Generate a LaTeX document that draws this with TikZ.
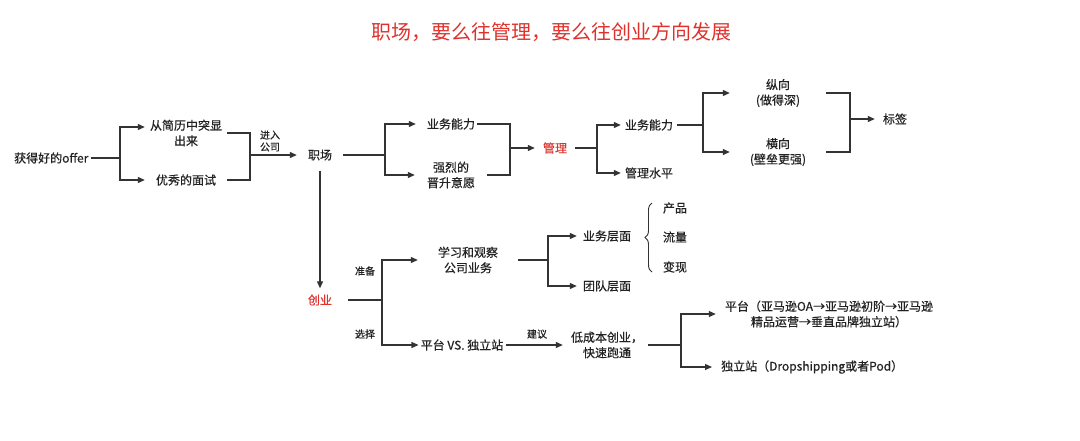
\documentclass[tikz,border=0pt]{standalone}
\usepackage{fontspec}
\setmainfont{Noto Sans CJK SC}
\newfontfamily\bodyfont{Noto Sans CJK SC}[FakeBold=0.5]
\usetikzlibrary{arrows.meta,decorations.pathreplacing}
\definecolor{lnc}{HTML}{333333}
\definecolor{txc}{HTML}{222222}
\definecolor{rdc}{HTML}{E0322D}
\begin{document}
\begin{tikzpicture}[x=1pt,y=-1pt,
  t/.style={font=\bodyfont\fontsize{12}{15.5}\selectfont, text=txc, inner ysep=1pt, inner xsep=5pt, align=center},
  lab/.style={font=\bodyfont\fontsize{10}{12}\selectfont, text=txc, inner sep=0pt, align=center},
  hl/.style={text=rdc},
  ln/.style={draw=lnc, line width=1.2pt},
  arr/.style={ln, -{Triangle[length=7pt,width=6pt]}},
]
\useasboundingbox (0,0) rectangle (1080,440);
\fill[white] (0,0) rectangle (1080,440);

% title
\node[font=\fontsize{20}{24}\selectfont, text=rdc] (title) at (551,32) {职场，要么往管理，要么往创业方向发展};

% nodes
\node[t, anchor=west, inner xsep=2pt] (offer) at (12,158) {获得好的offer};
\node[t] (resume) at (186,133) {从简历中突显\\出来};
\node[t, inner xsep=11pt] (interview) at (186,180) {优秀的面试};
\node[lab] (join) at (270,141) {进入\\公司};
\node[t, inner xsep=11pt] (zc) at (320,155) {职场};
\node[t, inner xsep=2pt] (yw1) at (451,124) {业务能力};
\node[t, inner xsep=12pt] (qs) at (451,175) {强烈的\\晋升意愿};
\node[t, hl, inner xsep=8pt] (gl) at (555,148) {管理};
\node[t, inner xsep=4pt] (yw2) at (649,125) {业务能力};
\node[t, inner xsep=4pt] (glsp) at (649,173) {管理水平};
\node[t, minimum width=96pt, inner xsep=0pt] (zx) at (778,93) {纵向\\(做得深)};
\node[t, minimum width=96pt, inner xsep=0pt] (hx) at (778,152) {横向\\(壁垒更强)};
\node[t, inner xsep=8pt] (bq) at (895,119) {标签};
\node[t, hl, inner xsep=16pt, inner ysep=6pt] (cy) at (320,300) {创业};
\node[lab] (zb) at (365,271) {准备};
\node[lab] (xz) at (365,334) {选择};
\node[t, inner xsep=20pt] (xx) at (468,260) {学习和观察\\公司业务};
\node[t, inner xsep=6pt] (ywcm) at (607,236) {业务层面};
\node[t, inner xsep=6pt] (tdcm) at (607,286) {团队层面};
\node[t] (cp) at (675,208) {产品};
\node[t] (ll) at (675,237) {流量};
\node[t] (bx) at (675,267) {变现};
\node[t, inner xsep=2pt] (pt) at (462,345) {平台 VS. 独立站};
\node[lab] (jy) at (537,334) {建议};
\node[t] (dcb) at (607,345) {低成本创业，\\快速跑通};
\node[t, inner xsep=9pt] (ptx) at (829,314) {平台（亚马逊OA→亚马逊初阶→亚马逊\\精品运营→垂直品牌独立站）};
\node[t, anchor=west, inner xsep=9pt] (dlz) at (712,367) {独立站（Dropshipping或者Pod）};

% brace
\draw[draw=lnc, line width=0.9pt, decorate, decoration={brace, amplitude=7pt}] (652,272) -- (652,203);

% connectors
\coordinate (j1) at (120,158);
\draw[ln] (offer.east) -- (j1);
\draw[arr] (j1) |- ([yshift=6pt]resume.west);
\draw[arr] (j1) |- (interview.west);

\coordinate (j2) at (250,155);
\draw[ln] (resume.east) -| (j2);
\draw[ln] (interview.east) -| (j2);
\draw[arr] (j2) -- (zc.west);

\coordinate (j3) at (385,155);
\draw[ln] (zc.east) -- (j3);
\draw[arr, shorten >=9pt] (j3) |- (yw1.west);
\draw[arr] (j3) |- (qs.west);

\coordinate (j4) at (510,148);
\draw[ln] (yw1.east) -| (j4);
\draw[ln] (qs.east) -| (j4);
\draw[arr] (j4) -- (gl.west);

\coordinate (j5) at (597,148);
\draw[ln] (gl.east) -- (j5);
\draw[arr] (j5) |- (yw2.west);
\draw[arr] (j5) |- (glsp.west);

\coordinate (j6) at (703,125);
\draw[ln] (yw2.east) -- (j6);
\draw[arr] (j6) |- (zx.west);
\draw[arr] (j6) |- (hx.west);

\coordinate (j7) at (850,119);
\draw[ln] (zx.east) -| (j7);
\draw[ln] (hx.east) -| (j7);
\draw[arr] (j7) -- (bq.west);

\draw[arr, shorten <=9pt] (zc.south) -- (cy.north);

\coordinate (j8) at (382,300);
\draw[ln] (cy.east) -- (j8);
\draw[arr] (j8) |- (xx.west);
\draw[arr] (j8) |- (pt.west);

\coordinate (j9) at (548,260);
\draw[ln] (xx.east) -- (j9);
\draw[arr] (j9) |- (ywcm.west);
\draw[arr] (j9) |- (tdcm.west);

\draw[arr, shorten >=3pt] (pt.east) -- (dcb.west);

\coordinate (j10) at (681,345);
\draw[ln] (dcb.east) -- (j10);
\draw[arr] (j10) |- (ptx.west);
\draw[arr] (j10) |- (dlz.west);
\end{tikzpicture}
\end{document}
